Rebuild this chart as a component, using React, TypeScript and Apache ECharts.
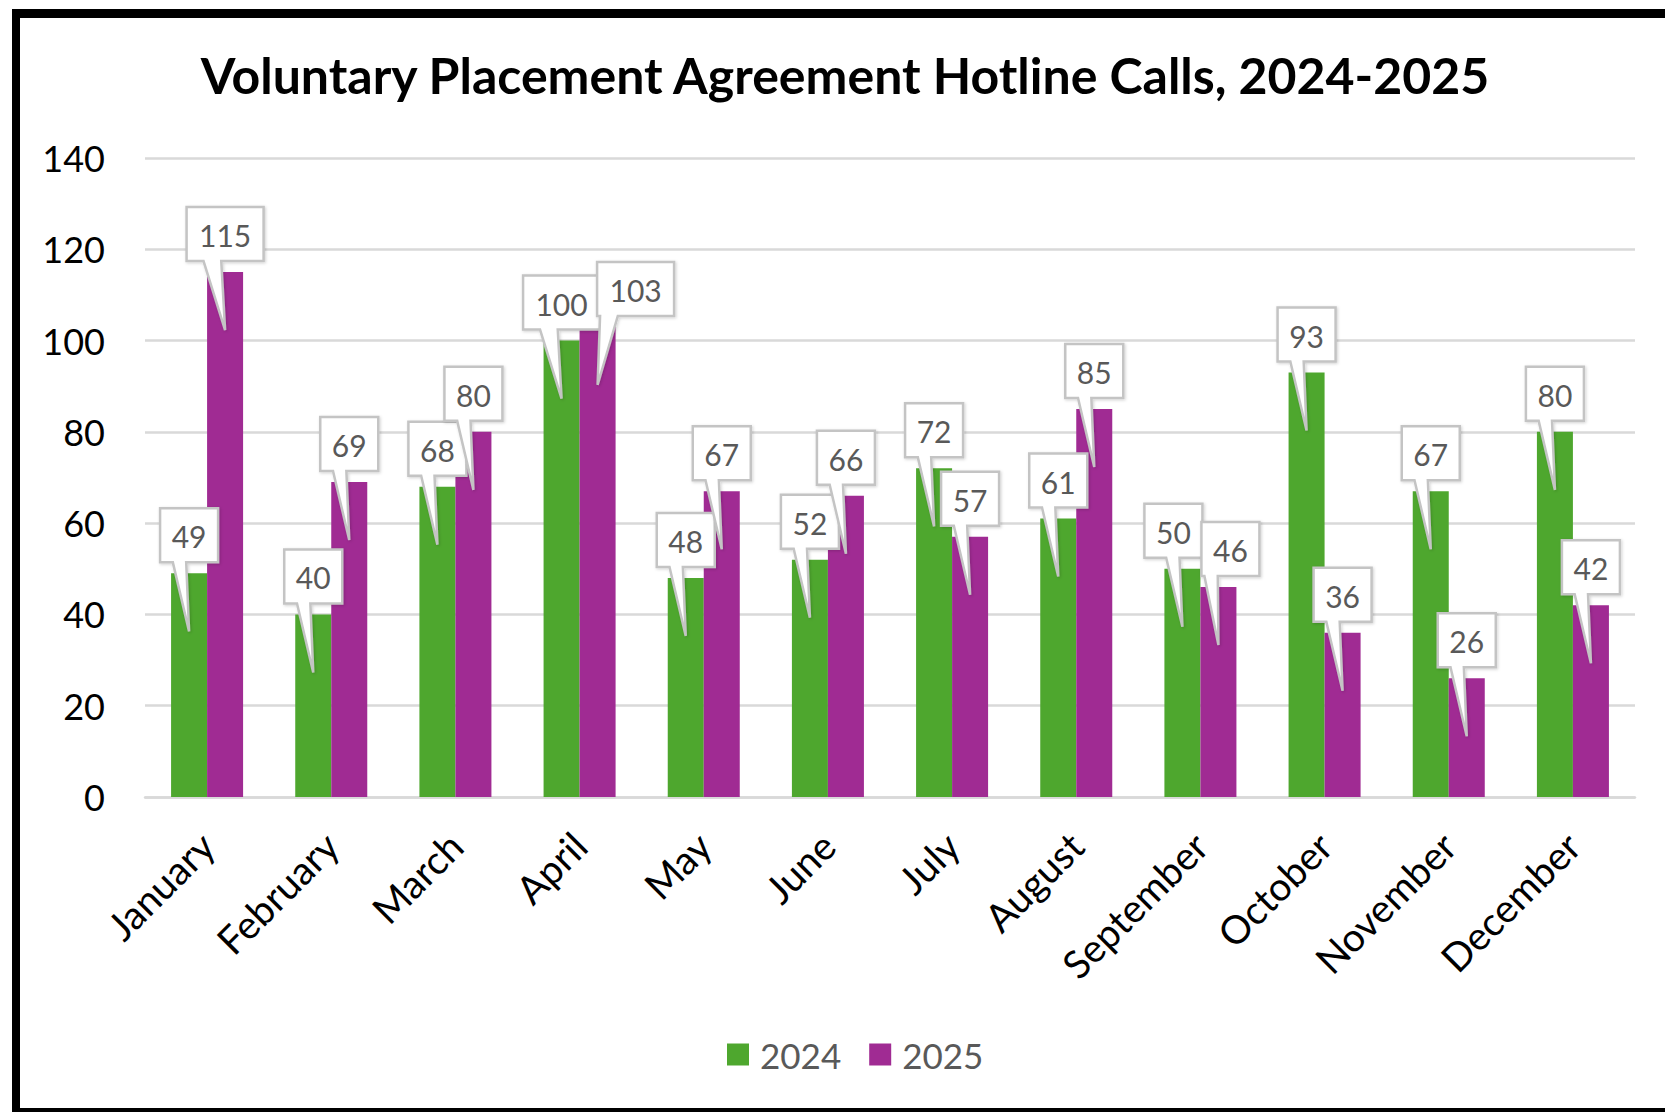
import React, { useEffect, useRef } from "react";
import * as echarts from "echarts";

const months = [
  "January", "February", "March", "April", "May", "June",
  "July", "August", "September", "October", "November", "December",
];
const calls2024 = [49, 40, 68, 100, 48, 52, 72, 61, 50, 93, 67, 80];
const calls2025 = [115, 69, 80, 103, 67, 66, 57, 85, 46, 36, 26, 42];
const seriesNames = ["2024", "2025"];
const yMin = 0;
const yMax = 140;
const yStep = 20;

// horizontal nudges of the callout boxes (px), as in the reference
const nudge2024 = [0, 0, 0, 0, 0, 0, 0, 0, -9, 0, 0, 0];
const nudge2025 = [0, 0, 0, 38, 0, 0, 0, 0, 12, 0, 0, 0];

const GREEN = "#4EA72E";
const PURPLE = "#A02B93";
const FONT = "Lato, 'Noto Sans', sans-serif";
const CAT_GAP = 0.42;

function callout(values: number[], nudges: number[], side: number) {
  return {
    type: "custom",
    data: values.map((v, i) => [i, v]),
    z: 10,
    silent: true,
    renderItem: (params: any, api: any) => {
      const i = api.value(0);
      const v = api.value(1);
      const pt = api.coord([i, v]);
      const band = api.size([1, 0])[0];
      const barW = (band * (1 - CAT_GAP)) / 2;
      const cx = pt[0] + (side * barW) / 2;
      const topY = pt[1];
      const text = String(v);
      const w = 20 + text.length * 19;
      const h = 54;
      const bx = cx + nudges[i];
      const left = bx - w / 2;
      const right = bx + w / 2;
      const bottom = topY - 11;
      const top = bottom - h;
      const tipX = cx;
      const tipY = topY + 58;
      let b1 = tipX - 0.28 * w;
      let b2 = tipX - 0.05 * w;
      const span = b2 - b1;
      if (b1 < left + 3) {
        b1 = left + 3;
        b2 = b1 + span;
      }
      if (b2 > right - 3) {
        b2 = right - 3;
        b1 = b2 - span;
      }
      return {
        type: "group",
        children: [
          {
            type: "polygon",
            shape: {
              points: [
                [left, top],
                [right, top],
                [right, bottom],
                [b2, bottom],
                [tipX, tipY],
                [b1, bottom],
                [left, bottom],
              ],
            },
            style: {
              fill: "#ffffff",
              stroke: "#c4c4c4",
              lineWidth: 2.5,
              shadowBlur: 3,
              shadowColor: "rgba(0,0,0,0.18)",
              shadowOffsetX: 1,
              shadowOffsetY: 1,
            },
          },
          {
            type: "text",
            style: {
              text,
              x: bx,
              y: (top + bottom) / 2 + 1,
              align: "center",
              verticalAlign: "middle",
              fill: "#595959",
              fontSize: 30,
              fontFamily: FONT,
            },
          },
        ],
      };
    },
  };
}

export default function App() {
  const ref = useRef<HTMLDivElement>(null);
  useEffect(() => {
    if (!ref.current) return;
    const chart = echarts.init(ref.current, null, { renderer: "svg" });
    chart.setOption({
      animation: false,
      backgroundColor: "#ffffff",
      title: {
        text: "Voluntary Placement Agreement Hotline Calls, 2024-2025",
        left: 845,
        textAlign: "center",
        top: 50,
        padding: 0,
        textStyle: {
          fontFamily: FONT,
          fontWeight: "bold",
          fontSize: 50,
          color: "#000000",
        },
      },
      legend: {
        data: seriesNames,
        left: 727,
        top: 1037,
        padding: 0,
        itemWidth: 22,
        itemHeight: 22,
        itemGap: 28,
        icon: "rect",
        textStyle: {
          fontFamily: FONT,
          fontSize: 35,
          color: "#595959",
          padding: [0, 0, 0, 6],
        },
      },
      grid: { left: 145, right: 30, top: 158, bottom: 315, containLabel: false },
      xAxis: {
        type: "category",
        data: months,
        axisTick: { show: false },
        axisLine: { lineStyle: { color: "#d9d9d9", width: 2.5 } },
        axisLabel: {
          rotate: 45,
          interval: 0,
          margin: 42,
          fontFamily: FONT,
          fontSize: 39,
          color: "#000000",
        },
      },
      yAxis: {
        type: "value",
        min: yMin,
        max: yMax,
        interval: yStep,
        axisLine: { show: false },
        axisTick: { show: false },
        splitLine: { lineStyle: { color: "#d9d9d9", width: 2.5 } },
        axisLabel: {
          margin: 40,
          fontFamily: FONT,
          fontSize: 36,
          color: "#000000",
        },
      },
      series: [
        {
          name: seriesNames[0],
          type: "bar",
          data: calls2024,
          itemStyle: { color: GREEN },
          barGap: "0%",
          barCategoryGap: CAT_GAP * 100 + "%",
        },
        {
          name: seriesNames[1],
          type: "bar",
          data: calls2025,
          itemStyle: { color: PURPLE },
          barGap: "0%",
          barCategoryGap: CAT_GAP * 100 + "%",
        },
        callout(calls2024, nudge2024, -1),
        callout(calls2025, nudge2025, 1),
      ],
      graphic: [
        { type: "rect", shape: { x: 12, y: 9, width: 8, height: 1103 }, style: { fill: "#000" }, z: 100 },
        { type: "rect", shape: { x: 12, y: 9, width: 1653, height: 9 }, style: { fill: "#000" }, z: 100 },
        { type: "rect", shape: { x: 12, y: 1108, width: 1653, height: 4 }, style: { fill: "#000" }, z: 100 },
      ],
    });
    return () => chart.dispose();
  }, []);
  return (
    <div
      ref={ref}
      style={{ position: "fixed", left: 0, top: 0, width: 1665, height: 1112 }}
    />
  );
}
